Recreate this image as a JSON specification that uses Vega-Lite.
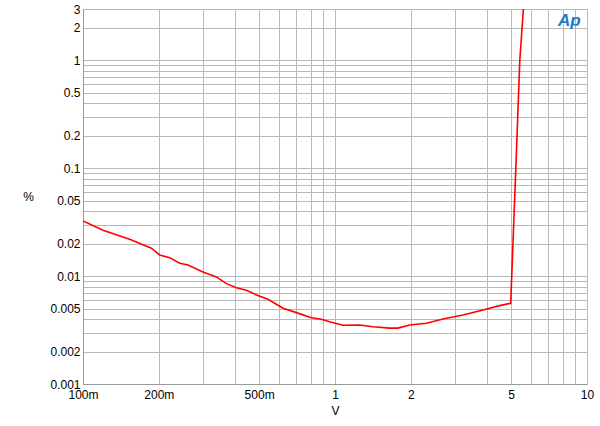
{
  "$schema": "https://vega.github.io/schema/vega-lite/v6.json",
  "width": 504,
  "height": 375,
  "autosize": {"type": "none"},
  "padding": {"left": 83, "top": 9, "right": 13, "bottom": 42},
  "background": "white",
  "config": {
    "view": {"stroke": "#9a9a9a", "strokeWidth": 1},
    "font": "Liberation Sans",
    "axis": {
      "labelFont": "Liberation Sans",
      "titleFont": "Liberation Sans",
      "labelFontSize": 12,
      "titleFontSize": 12,
      "titleFontWeight": "normal",
      "labelColor": "#000",
      "titleColor": "#000",
      "domainColor": "#9a9a9a",
      "gridColor": "#b8b8b8",
      "gridWidth": 1,
      "gridOpacity": 1,
      "ticks": false
    }
  },
  "datasets": {
    "thd": [
      {"v": 0.1, "pct": 0.0325},
      {"v": 0.12, "pct": 0.0267},
      {"v": 0.1532, "pct": 0.022},
      {"v": 0.1868, "pct": 0.01818},
      {"v": 0.2015, "pct": 0.01573},
      {"v": 0.2208, "pct": 0.01485},
      {"v": 0.2419, "pct": 0.01318},
      {"v": 0.261, "pct": 0.0127},
      {"v": 0.2993, "pct": 0.01094},
      {"v": 0.3383, "pct": 0.00983},
      {"v": 0.3708, "pct": 0.00852},
      {"v": 0.406, "pct": 0.00782},
      {"v": 0.445, "pct": 0.00739},
      {"v": 0.488, "pct": 0.0067},
      {"v": 0.542, "pct": 0.0061},
      {"v": 0.622, "pct": 0.00504},
      {"v": 0.703, "pct": 0.00459},
      {"v": 0.806, "pct": 0.00412},
      {"v": 0.883, "pct": 0.00398},
      {"v": 0.952, "pct": 0.00378},
      {"v": 1.076, "pct": 0.0035},
      {"v": 1.253, "pct": 0.00352},
      {"v": 1.415, "pct": 0.0034},
      {"v": 1.648, "pct": 0.0033},
      {"v": 1.778, "pct": 0.0033},
      {"v": 1.979, "pct": 0.00352},
      {"v": 2.306, "pct": 0.00366},
      {"v": 2.683, "pct": 0.00401},
      {"v": 3.22, "pct": 0.00437},
      {"v": 3.87, "pct": 0.00486},
      {"v": 4.5, "pct": 0.00533},
      {"v": 4.98, "pct": 0.00561},
      {"v": 5.25, "pct": 0.145},
      {"v": 5.41, "pct": 0.99},
      {"v": 5.62, "pct": 3.57}
    ],
    "logo": [{"v": 8.5, "pct": 2.3, "t": "Ap"}]
  },
  "layer": [
    {
      "data": {"name": "thd"},
      "mark": {"type": "line", "color": "#ff0000", "strokeWidth": 1.6, "clip": true},
      "encoding": {
        "x": {
          "field": "v",
          "type": "quantitative",
          "scale": {"type": "log", "domain": [0.1, 10], "nice": false},
          "axis": {
            "title": "V",
            "titlePadding": 5,
            "labelPadding": 5,
            "values": [0.1, 0.2, 0.3, 0.4, 0.5, 0.6, 0.7, 0.8, 0.9, 1, 2, 3, 4, 5, 6, 7, 8, 9, 10],
            "labelExpr": "datum.value == 0.1 ? '100m' : datum.value == 0.2 ? '200m' : datum.value == 0.5 ? '500m' : (datum.value == 1 || datum.value == 2 || datum.value == 5 || datum.value == 10) ? datum.label : ''",
            "labelOverlap": false,
            "labelFlush": false
          }
        },
        "y": {
          "field": "pct",
          "type": "quantitative",
          "scale": {"type": "log", "domain": [0.001, 3], "nice": false},
          "axis": {
            "title": "%",
            "titleAngle": 0,
            "titleAlign": "center",
            "titleBaseline": "middle",
            "titleX": -55,
            "titleY": 187,
            "labelPadding": 3,
            "values": [0.001, 0.002, 0.003, 0.004, 0.005, 0.006, 0.007, 0.008, 0.009, 0.01, 0.02, 0.03, 0.04, 0.05, 0.06, 0.07, 0.08, 0.09, 0.1, 0.2, 0.3, 0.4, 0.5, 0.6, 0.7, 0.8, 0.9, 1, 2, 3],
            "labelExpr": "indexof([0.001,0.002,0.005,0.01,0.02,0.05,0.1,0.2,0.5,1,2,3], datum.value) >= 0 ? datum.label : ''",
            "format": "~g",
            "labelOverlap": false,
            "labelFlush": false
          }
        }
      }
    },
    {
      "data": {"name": "logo"},
      "mark": {"type": "text", "font": "Liberation Sans", "fontSize": 17, "fontStyle": "italic", "fontWeight": "bold", "color": "#1f7cc4"},
      "encoding": {
        "x": {"field": "v", "type": "quantitative"},
        "y": {"field": "pct", "type": "quantitative"},
        "text": {"field": "t"}
      }
    }
  ]
}
